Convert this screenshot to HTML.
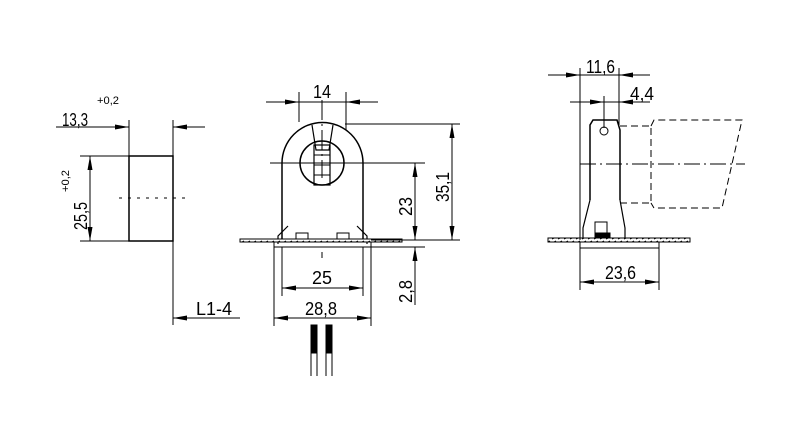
<!DOCTYPE html>
<html><head><meta charset="utf-8"><style>body{margin:0;background:#fff}svg{display:block}text{font-family:"Liberation Sans",sans-serif;fill:#000}</style></head><body>
<svg width="800" height="434" viewBox="0 0 800 434" xmlns="http://www.w3.org/2000/svg">
<defs>
<pattern id="h" width="6" height="4" patternUnits="userSpaceOnUse"><rect width="6" height="4" fill="#fff"/><path d="M0,3L4,1" stroke="#000" stroke-width="1"/></pattern>
</defs>
<g stroke="#000" stroke-width="1" fill="none">
<!-- left view -->
<rect x="129" y="156" width="44" height="85" stroke-width="1.5"/>
<path d="M119,198H186" stroke-dasharray="3,6"/>
<path d="M129,120V156M173,120V325M80,156H129M80,241H129"/>
<path d="M56,127H129M205,127H173M90,156V241M240,318H173"/>
<!-- middle view -->
<path d="M282,240V163A40,40 0 0 1 363,163V240" stroke-width="1.5"/>
<circle cx="322" cy="163" r="22" stroke-width="1.5"/>
<path d="M312,125L316,150H329L333,125" stroke-width="1.2"/>
<rect x="314" y="145" width="16" height="40" stroke-width="1.2"/>
<path d="M314,155H330M314,165H330M314,175H330"/>
<path d="M288,226L278,236V244M357,226L367,236V244" stroke-width="1.2"/>
<path d="M288,240H357" stroke-width="1.2"/>
<rect x="296" y="233" width="12" height="6"/><rect x="337" y="233" width="12" height="6"/>
<rect x="240" y="239" width="162" height="3" fill="url(#h)"/>
<rect x="274" y="242" width="97" height="5"/>
<path d="M322,100V178M322,252V258" stroke-dasharray="20,4,2,4"/>
<path d="M299,92V122M346,92V130M345,124H460M270,163H425M371,240H460M371,247H425M282,247V296M363,247V296M274,247V326M371,247V326"/>
<path d="M266,102H378M415,163V240M452,124V240M415,247V305M282,288H363M274,318H371"/>
<rect x="311" y="325" width="6" height="28" fill="#000"/><rect x="326" y="325" width="6" height="28" fill="#000"/>
<path d="M311,353V376M317,353V376M326,353V376M332,353V376"/>
<!-- right view -->
<path d="M590,200V125L593,120H617L620,130V200" stroke-width="1.5"/>
<circle cx="604" cy="131" r="4"/>
<path d="M590,200L583,228V240M620,200L625,228V240" stroke-width="1.2"/>
<rect x="595" y="222" width="12" height="16"/><rect x="596" y="233" width="14" height="6" fill="#000"/>
<rect x="548" y="238" width="142" height="4" fill="url(#h)"/>
<rect x="580" y="242" width="79" height="6"/>
<path d="M620,126H651V203H620M651,126L654,120H742L722,208H654L651,203" stroke-dasharray="7,4"/>
<path d="M580,164H745" stroke-dasharray="16,4,2,4"/>
<path d="M580,68V240M619,68V125M604,96V128M580,248V290M659,248V290"/>
<path d="M548,75H650M570,102H650M580,282H659"/>
</g>
<g fill="#000">
<polygon points="115,124.5 129,127 115,129.5"/>
<polygon points="187,124.5 173,127 187,129.5"/>
<polygon points="87.5,170 90,156 92.5,170"/>
<polygon points="87.5,227 90,241 92.5,227"/>
<polygon points="187,315.5 173,318 187,320.5"/>
<polygon points="285,99.5 299,102 285,104.5"/>
<polygon points="360,99.5 346,102 360,104.5"/>
<polygon points="412.5,177 415,163 417.5,177"/>
<polygon points="412.5,226 415,240 417.5,226"/>
<polygon points="449.5,138 452,124 454.5,138"/>
<polygon points="449.5,226 452,240 454.5,226"/>
<polygon points="412.5,261 415,247 417.5,261"/>
<polygon points="296,285.5 282,288 296,290.5"/>
<polygon points="349,285.5 363,288 349,290.5"/>
<polygon points="288,315.5 274,318 288,320.5"/>
<polygon points="357,315.5 371,318 357,320.5"/>
<polygon points="566,72.5 580,75 566,77.5"/>
<polygon points="633,72.5 619,75 633,77.5"/>
<polygon points="590,99.5 604,102 590,104.5"/>
<polygon points="633,99.5 619,102 633,104.5"/>
<polygon points="594,279.5 580,282 594,284.5"/>
<polygon points="645,279.5 659,282 645,284.5"/>
</g>
<g font-size="18">
<text x="62" y="126" textLength="26" lengthAdjust="spacingAndGlyphs">13,3</text>
<text x="97" y="104" font-size="11" textLength="22" lengthAdjust="spacingAndGlyphs">+0,2</text>
<text transform="translate(87,230) rotate(-90)" textLength="28" lengthAdjust="spacingAndGlyphs">25,5</text>
<text transform="translate(69,192) rotate(-90)" font-size="11" textLength="22" lengthAdjust="spacingAndGlyphs">+0,2</text>
<text x="196" y="315" textLength="36" lengthAdjust="spacingAndGlyphs">L1-4</text>
<text x="313" y="98" textLength="18" lengthAdjust="spacingAndGlyphs">14</text>
<text transform="translate(412,216) rotate(-90)" textLength="19" lengthAdjust="spacingAndGlyphs">23</text>
<text transform="translate(449,202) rotate(-90)" textLength="30" lengthAdjust="spacingAndGlyphs">35,1</text>
<text transform="translate(412,303) rotate(-90)" textLength="23" lengthAdjust="spacingAndGlyphs">2,8</text>
<text x="312" y="284" textLength="20" lengthAdjust="spacingAndGlyphs">25</text>
<text x="305" y="315" textLength="32" lengthAdjust="spacingAndGlyphs">28,8</text>
<text x="586" y="73" textLength="29" lengthAdjust="spacingAndGlyphs">11,6</text>
<text x="630" y="100" textLength="24" lengthAdjust="spacingAndGlyphs">4,4</text>
<text x="605" y="279" textLength="31" lengthAdjust="spacingAndGlyphs">23,6</text>
</g>
</svg>
</body></html>
